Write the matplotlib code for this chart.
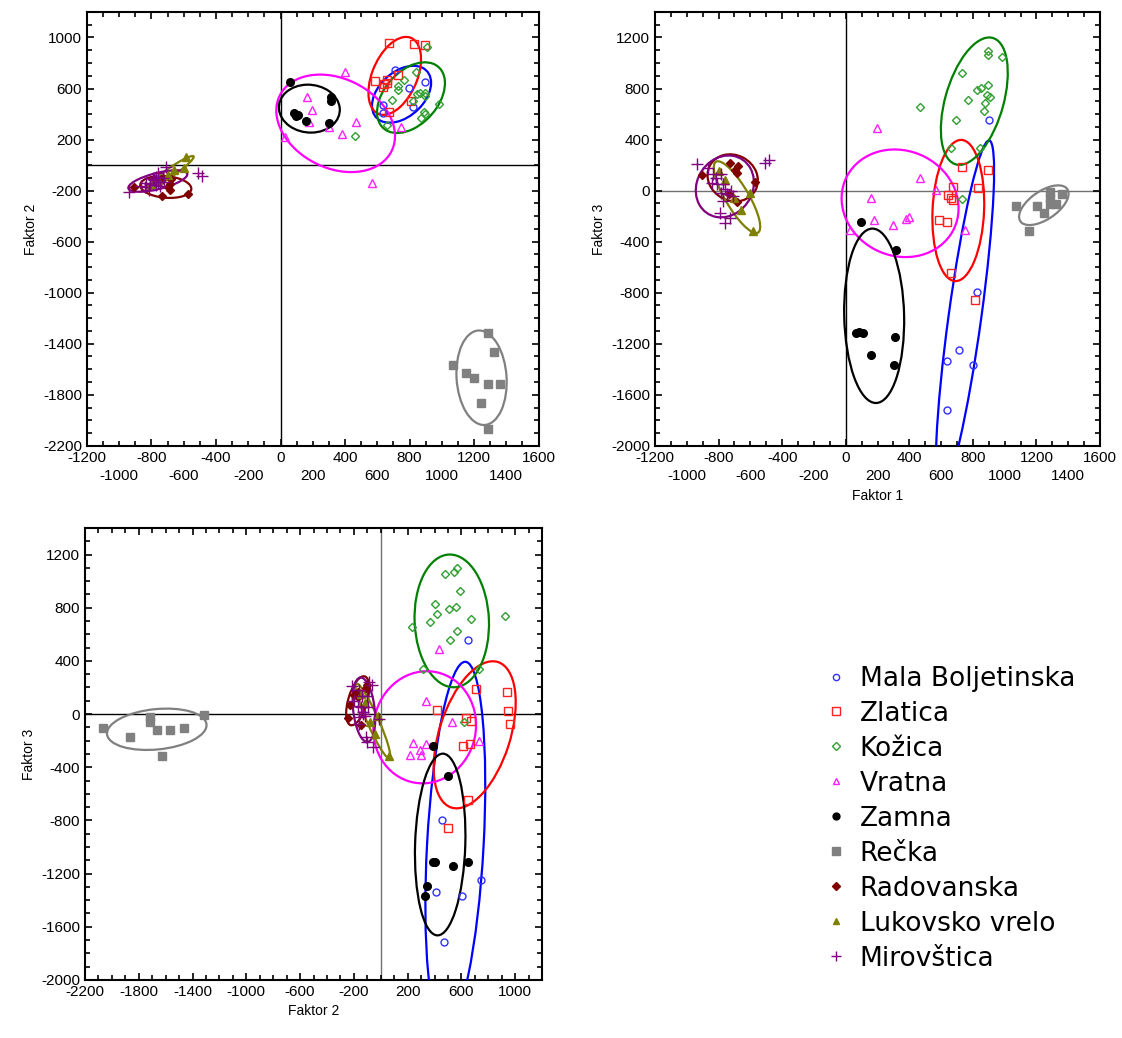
import numpy as np
import matplotlib.pyplot as plt
from matplotlib.patches import Ellipse
from matplotlib.ticker import FixedLocator, MultipleLocator, FuncFormatter

plt.rcParams['font.family'] = ['Liberation Sans', 'DejaVu Sans']

# factor scores per locality (Faktor 1, Faktor 2, Faktor 3)
mb_f1 = [899, 824, 711, 635, 799, 635]
mb_f2 = [650, 454, 744, 409, 603, 469]
mb_f3 = [556, -798, -1246, -1338, -1365, -1718]

zl_f1 = [730, 893, 673, 830, 642, 660, 673, 585, 635, 660, 811]
zl_f2 = [707, 938, 417, 945, 632, 670, 960, 662, 610, 647, 499]
zl_f3 = [188, 165, 31, 24, -31, -55, -71, -227, -243, -643, -854]

ko_f1 = [893, 893, 981, 730, 893, 849, 824, 887, 906, 767, 874, 868, 465, 692, 660, 843, 730]
ko_f2 = [565, 543, 476, 588, 402, 558, 506, 417, 923, 670, 365, 565, 231, 513, 313, 729, 618]
ko_f3 = [1097, 1066, 1050, 925, 831, 807, 792, 752, 737, 713, 690, 627, 658, 556, 337, 337, -63]

vr_f1 = [398, 162, 195, 467, 299, 380, 25, 750, 568, 176]
vr_f2 = [730, 530, 430, 335, 295, 240, 219, 298, -141, 335]
vr_f3 = [-205, -58, 487, 102, -268, -220, -306, -307, 8, -227]

za_f1 = [62, 311, 106, 85, 94, 314, 157, 302]
za_f2 = [650, 536, 392, 405, 387, 499, 342, 327]
za_f3 = [-1113, -1144, -1113, -1110, -243, -468, -1292, -1366]

re_f1 = [1288, 1245, 1288, 1363, 1201, 1151, 1070, 1325, 1288]
re_f2 = [-2067, -1863, -1714, -1714, -1667, -1628, -1565, -1465, -1315]
re_f3 = [-105, -173, -60, -23, -120, -316, -120, -105, -8]

ra_f1 = [-906, -730, -678, -698, -686, -734, -572, -686]
ra_f2 = [-172, -102, -110, -172, -196, -243, -227, -150]
ra_f3 = [125, 219, 196, 165, 141, -30, 71, -86]

lu_f1 = [-585, -600, -800, -760, -700, -660]
lu_f2 = [63, -24, -150, -120, -80, -40]
lu_f3 = [-313, -16, 150, 80, -60, -150]

mi_f1 = [-937, -868, -843, -836, -818, -811, -792, -786, -786, -774,
         -774, -761, -761, -748, -730, -723, -711, -509, -484]
mi_f2 = [-212, -165, -172, -141, -196, -150, -110, -102, -120, -94,
         -160, -130, -60, -165, -100, -133, -16, -63, -86]
mi_f3 = [212, 180, 63, 133, 102, 55, -172, 133, -16, 55,
         -78, 16, -251, -24, -212, 0, -39, 219, 243]

names = ['Mala Boljetinska', 'Zlatica', 'Kožica', 'Vratna', 'Zamna',
         'Rečka', 'Radovanska', 'Lukovsko vrelo', 'Mirovštica']
faktor1 = [mb_f1, zl_f1, ko_f1, vr_f1, za_f1, re_f1, ra_f1, lu_f1, mi_f1]
faktor2 = [mb_f2, zl_f2, ko_f2, vr_f2, za_f2, re_f2, ra_f2, lu_f2, mi_f2]
faktor3 = [mb_f3, zl_f3, ko_f3, vr_f3, za_f3, re_f3, ra_f3, lu_f3, mi_f3]

# styles
colors = ['#0000ff', '#ff0000', '#008000', '#ff00ff', '#000000',
          '#808080', '#800000', '#808000', '#800080']
mcolors = ['#3030ff', '#ff2020', '#30a030', '#ff20ff', '#000000',
           '#808080', '#800000', '#808000', '#800080']
markers = ['o', 's', 'D', '^', 'o', 's', 'D', '^', '+']
msizes = [5, 6, 4.5, 5.5, 5.5, 6, 4.5, 5.5, 8]
filled = [False, False, False, False, True, True, True, True, True]

K = 1.7  # ellipse scale in standard deviations


def ellipse(ax, x, y, color):
    x = np.asarray(x, float)
    y = np.asarray(y, float)
    cov = np.cov(x, y)
    vals, vecs = np.linalg.eigh(cov)
    vals = np.clip(vals, 1e-6, None)
    angle = np.degrees(np.arctan2(vecs[1, 1], vecs[0, 1]))
    e = Ellipse((x.mean(), y.mean()), 2 * K * np.sqrt(vals[1]), 2 * K * np.sqrt(vals[0]),
                angle=angle, fill=False, edgecolor=color, lw=1.6, zorder=3)
    ax.add_patch(e)


def scatter_panel(ax, xs, ys):
    handles = []
    for i in range(len(names)):
        face = mcolors[i] if filled[i] else 'none'
        h, = ax.plot(xs[i], ys[i], linestyle='none', marker=markers[i],
                     markersize=msizes[i], markerfacecolor=face,
                     markeredgecolor=mcolors[i], markeredgewidth=1.0, zorder=4)
        handles.append(h)
        ellipse(ax, xs[i], ys[i], colors[i])
    return handles


def style_axes(ax, xlim, ylim, xlabels, ylabels, hcol, vcol, second_row=False):
    ax.set_xlim(*xlim)
    ax.set_ylim(*ylim)
    ax.axhline(0, color=hcol, lw=1.0, zorder=1)
    ax.axvline(0, color=vcol, lw=1.0, zorder=1)
    ax.xaxis.set_major_locator(FixedLocator(xlabels))
    ax.set_xticklabels([str(v) for v in xlabels])
    ax.yaxis.set_major_locator(FixedLocator(ylabels))
    ax.set_yticklabels([str(v) for v in ylabels])
    ax.xaxis.set_minor_locator(MultipleLocator(100))
    ax.yaxis.set_minor_locator(MultipleLocator(100))
    if second_row:
        # in-between values go on a second, lower row
        ax.xaxis.set_minor_formatter(FuncFormatter(
            lambda v, p: str(int(round(v))) if int(round(v)) % 400 == 200 else ''))
        ax.xaxis.set_tick_params(which='minor', pad=17)
    ax.tick_params(which='both', direction='in', top=True, right=True, labelsize=11, width=1.2)
    ax.tick_params(which='major', length=5)
    ax.tick_params(which='minor', length=3.5)
    for s in ax.spines.values():
        s.set_linewidth(1.5)


fig = plt.figure(figsize=(11.22, 10.38), dpi=100)
ax1 = fig.add_axes([0.0775, 0.5705, 0.4025, 0.418])
ax2 = fig.add_axes([0.5838, 0.5705, 0.3966, 0.418])
ax3 = fig.add_axes([0.0758, 0.0559, 0.4073, 0.4355])

scatter_panel(ax1, faktor1, faktor2)
scatter_panel(ax2, faktor1, faktor3)
handles = scatter_panel(ax3, faktor2, faktor3)

xl12 = list(range(-1200, 1601, 400))
style_axes(ax1, (-1200, 1600), (-2200, 1200), xl12, list(range(-2200, 1001, 400)),
           'black', 'black', second_row=True)
style_axes(ax2, (-1200, 1600), (-2000, 1400), xl12, list(range(-2000, 1201, 400)),
           '#707070', 'black', second_row=True)
style_axes(ax3, (-2200, 1200), (-2000, 1400), list(range(-2200, 1001, 400)),
           list(range(-2000, 1201, 400)), 'black', '#707070')

ax1.set_ylabel('Faktor 2', fontsize=10)
ax2.set_ylabel('Faktor 3', fontsize=10)
ax2.set_xlabel('Faktor 1', fontsize=10)
ax3.set_xlabel('Faktor 2', fontsize=10)
ax3.set_ylabel('Faktor 3', fontsize=10)

fig.legend(handles, names, loc='upper left', bbox_to_anchor=(0.7145, 0.3815),
           frameon=False, prop={'family': 'DejaVu Sans', 'size': 19},
           handlelength=0.8, handletextpad=0.5, labelspacing=0.34, markerscale=0.9)

fig.savefig('out.png', dpi=100)
